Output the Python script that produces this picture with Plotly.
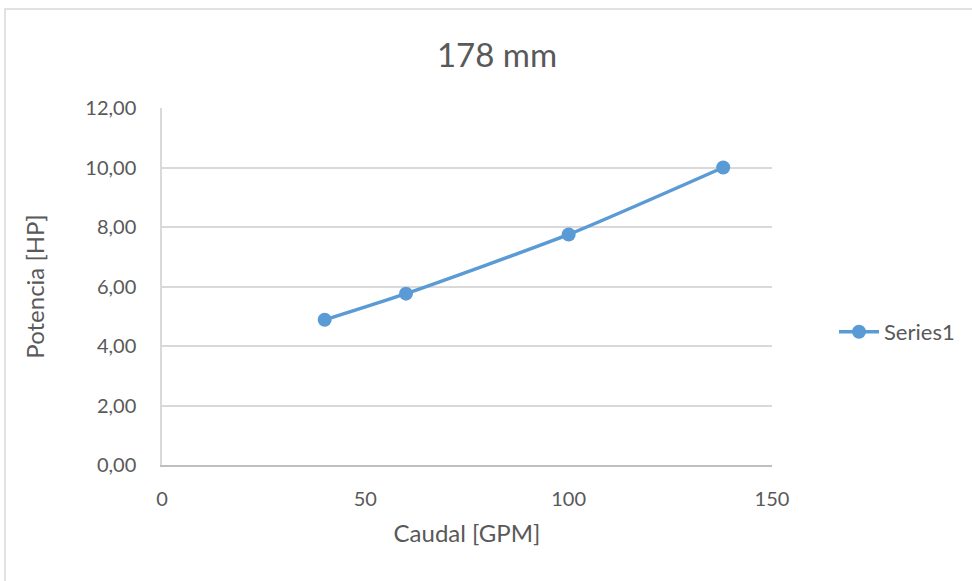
import plotly.graph_objects as go

caudal = [40, 60, 100, 138]
potencia = [4.88, 5.76, 7.75, 10.0]
series_name = "Series1"
title_text = "178 mm"
x_title = "Caudal [GPM]"
y_title = "Potencia [HP]"
x_ticks = [0, 50, 100, 150]
y_ticks = [0, 2, 4, 6, 8, 10, 12]

FONT = "Lato, Open Sans, sans-serif"
GREY = "#595959"
BLUE = "#5b9bd5"

fig = go.Figure()
fig.add_trace(go.Scatter(
    x=caudal, y=potencia, name=series_name,
    mode="lines+markers",
    line=dict(color=BLUE, width=3.5, shape="spline", smoothing=0.6),
    marker=dict(color=BLUE, size=14),
    showlegend=True,
))

L, R, T, B = 162, 200, 108, 116
W, H = 972, 581
pw, ph = W - L - R, H - T - B

def px_x(px):
    return (px - L) / pw

def px_y(py):
    return (H - B - py) / ph

fig.update_layout(
    width=W, height=H,
    margin=dict(l=L, r=R, t=T, b=B),
    paper_bgcolor="white", plot_bgcolor="white",
    separators=", ",
    font=dict(family=FONT, color=GREY, size=20),
    title=dict(text=title_text, x=(497) / W, xanchor="center",
               y=1 - 55 / H, yanchor="middle",
               font=dict(size=33, color=GREY, family=FONT)),
    xaxis=dict(
        range=[0, 150], tickvals=x_ticks, showgrid=False,
        showline=True, linecolor="#bfbfbf", linewidth=1.5,
        ticks="outside", ticklen=15, tickcolor="rgba(0,0,0,0)",
        tickfont=dict(size=20, color=GREY),
        zeroline=False,
        title=dict(text=x_title, font=dict(size=24, color=GREY), standoff=16),
    ),
    yaxis=dict(
        range=[0, 12], tickvals=y_ticks, tickformat=".2f",
        showgrid=True, gridcolor="#d9d9d9", gridwidth=1.5,
        showline=True, linecolor="#d9d9d9", linewidth=1.5,
        ticks="outside", ticklen=20, tickcolor="rgba(0,0,0,0)",
        tickfont=dict(size=20, color=GREY),
        zeroline=False,
        title=dict(text=y_title, font=dict(size=24, color=GREY), standoff=34),
    ),
    legend=dict(x=px_x(834), y=px_y(332), xanchor="left", yanchor="middle",
                font=dict(size=22, color=GREY), bgcolor="rgba(0,0,0,0)",
                itemwidth=40),
    shapes=[dict(type="rect", xref="paper", yref="paper",
                 x0=px_x(5), x1=px_x(990), y0=px_y(600), y1=px_y(9),
                 line=dict(color="#d9d9d9", width=1.5), layer="below")],
)

fig.write_html("out.html")
